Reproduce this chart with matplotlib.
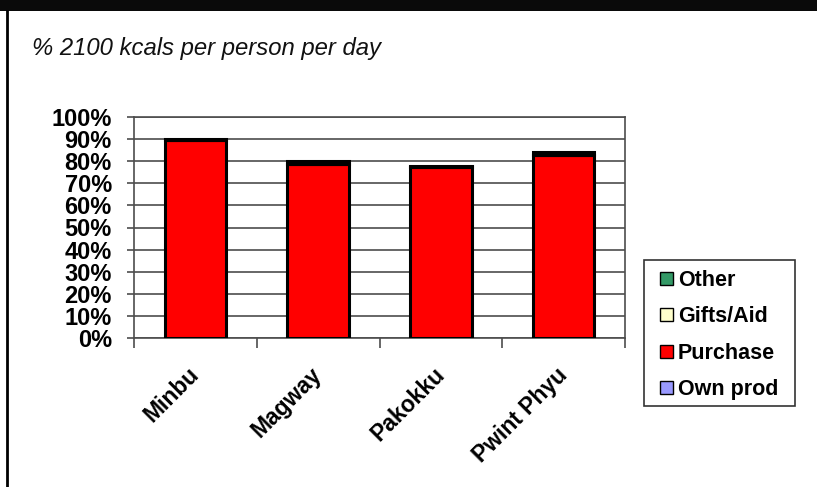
import matplotlib
matplotlib.use("Agg")
import matplotlib.pyplot as plt
from matplotlib.lines import Line2D
from matplotlib.patches import Rectangle
from matplotlib.legend_handler import HandlerPatch
import numpy as np

# Sources of food energy as % of 2100 kcal per person per day
districts = ["Minbu", "Magway", "Pakokku", "Pwint Phyu"]
own_prod = [0.0, 0.0, 0.0, 0.0]
purchase = [89.6, 78.8, 77.5, 82.8]
gifts_aid = [0.0, 0.0, 0.0, 0.0]
other = [0.4, 1.2, 0.5, 1.2]

series_names = ["Own prod", "Purchase", "Gifts/Aid", "Other"]
series_colors = ["#9999FF", "#FF0000", "#FFFFCC", "#339966"]
y_ticks = list(range(0, 101, 10))

plt.rcParams["font.family"] = ["Liberation Sans", "DejaVu Sans"]

W, H = 817, 487
fig = plt.figure(figsize=(W / 100, H / 100), dpi=100)
fig.patch.set_facecolor("white")

# Top banner and left rule
fig.add_artist(Rectangle((0, 1 - 11 / H), 1, 11 / H, transform=fig.transFigure,
                         facecolor="#0a0a0a", edgecolor="none", zorder=0))
fig.add_artist(Line2D([6.5 / W, 6.5 / W], [0, 1 - 11 / H], transform=fig.transFigure,
                      color="#000000", linewidth=2.0))

fig.text(32 / W, 1 - 55 / H, "% 2100 kcals per person per day", fontsize=17.2,
         style="italic", ha="left", va="baseline", color="#111111")

left, right, top, bottom = 134, 625, 117, 338
ax = fig.add_axes([left / W, 1 - bottom / H, (right - left) / W, (bottom - top) / H])

x = np.arange(len(districts))
stack = [own_prod, purchase, gifts_aid, other]
base = np.zeros(len(districts))
for name, vals, col in zip(series_names, stack, series_colors):
    vals = np.asarray(vals, dtype=float)
    ax.bar(x, vals, width=0.5, bottom=base, color=col, edgecolor="black",
           linewidth=2.2, zorder=3, label=name)
    base = base + vals

ax.set_xlim(-0.5, len(districts) - 0.5)
ax.set_ylim(0, 100)
ax.set_yticks(y_ticks)
ax.set_yticklabels([f"{v}%" for v in y_ticks], fontsize=17, fontweight="bold")
ax.yaxis.grid(True, color="#4d4d4d", linewidth=1.2, zorder=0)
ax.set_axisbelow(True)

# Category boundary ticks on the x axis, labels at the bar centres
ax.set_xticks(np.arange(-0.5, len(districts)), minor=False)
ax.set_xticklabels([])
ax.set_xticks(x, minor=True)
ax.set_xticklabels(districts, minor=True, rotation=45, ha="right", va="center",
                   rotation_mode="anchor", fontsize=16.5, fontweight="bold")
ax.tick_params(axis="x", which="minor", length=0, pad=24)
ax.tick_params(axis="x", which="major", length=7, width=1.2, color="#4d4d4d", direction="out")
ax.tick_params(axis="y", length=5, width=1.2, color="#4d4d4d", direction="out", pad=11)

for s in ax.spines.values():
    s.set_color("#4d4d4d")
    s.set_linewidth(1.2)


def square_at_right(legend, orig_handle, xdescent, ydescent, width, height, fontsize):
    return Rectangle((-xdescent + width - height, -ydescent), height, height)


leg_handles = [Rectangle((0, 0), 1, 1, facecolor=c, edgecolor="black", linewidth=1.0)
               for c in series_colors[::-1]]
leg = fig.legend(leg_handles, series_names[::-1], loc="upper left",
                 bbox_to_anchor=(644 / W, 1 - 260 / H), frameon=False,
                 prop={"weight": "bold", "size": 15.5}, handlelength=0.9,
                 handleheight=0.55, handletextpad=0.23, labelspacing=0.72,
                 borderpad=0.45, borderaxespad=0.0,
                 handler_map={Rectangle: HandlerPatch(patch_func=square_at_right)})

# Legend frame
fig.add_artist(Rectangle((644 / W, 1 - 406 / H), (795 - 644) / W, (406 - 260) / H,
                         transform=fig.transFigure, facecolor="none",
                         edgecolor="#333333", linewidth=1.2, zorder=5))

fig.savefig("out.png", dpi=100, facecolor="white")
